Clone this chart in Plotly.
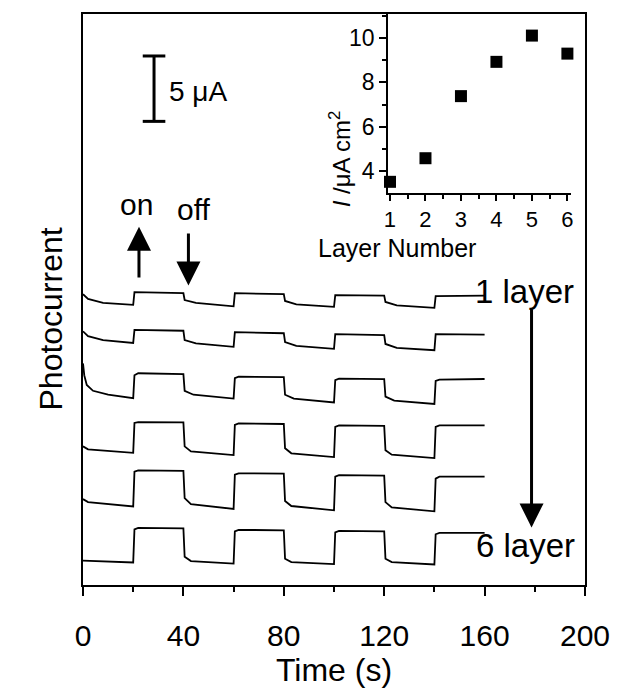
import plotly.graph_objects as go

FONT = "Liberation Sans, Arial, sans-serif"

# ---- main traces: time (s) and photocurrent (µA, offset per layer) ----
t_a = [0, 2, 8, 20, 20.5, 40, 40.5, 45, 60, 60.5, 80, 80.5, 85, 100, 100.5, 120, 120.5, 125, 140, 140.5, 160]
layer1 = [22.24, 21.87, 21.57, 21.42, 22.39, 22.31, 21.79, 21.57, 21.31, 22.31, 22.24, 21.72, 21.46, 21.27,
          22.16, 22.13, 21.64, 21.38, 21.19, 22.09, 22.13]
layer2 = [19.40, 19.03, 18.73, 18.51, 19.51, 19.44, 18.73, 18.47, 18.21, 19.33, 19.25, 18.58, 18.28, 18.06,
          19.18, 19.10, 18.43, 18.13, 17.95, 19.18, 19.14]
t_b = [0, 0.5, 1.5, 4, 10, 20, 20.5, 22, 40, 40.5, 44, 60, 60.5, 62, 80, 80.5, 84, 100, 100.5, 102, 120,
       120.5, 124, 140, 140.5, 142, 160]
layer3 = [16.94, 16.04, 15.30, 14.85, 14.55, 14.29, 16.04, 16.19, 16.12, 14.85, 14.55, 14.25, 15.82, 15.93,
          15.90, 14.55, 14.25, 13.96, 15.67, 15.78, 15.75, 14.40, 14.10, 13.84, 15.60, 15.71, 15.75]
t_c = [0, 2, 20, 20.5, 22, 40, 40.5, 43, 60, 60.5, 62, 80, 80.5, 83, 100, 100.5, 102, 120, 120.5, 123, 140,
       140.5, 142, 160]
layer4 = [10.60, 10.37, 10.11, 12.39, 12.46, 12.43, 10.60, 10.22, 9.93, 12.24, 12.35, 12.31, 10.45, 10.07,
          9.78, 12.09, 12.20, 12.16, 10.30, 9.96, 9.70, 12.09, 12.20, 12.20]
layer5 = [6.57, 6.34, 6.01, 8.66, 8.77, 8.73, 6.64, 6.19, 5.82, 8.43, 8.54, 8.51, 6.42, 6.04, 5.71, 8.28,
          8.40, 8.36, 6.34, 5.93, 5.63, 8.13, 8.28, 8.28]
t_d = [0, 20, 20.5, 22, 40, 40.5, 43, 60, 60.5, 62, 80, 80.5, 83, 100, 100.5, 102, 120, 120.5, 123, 140,
       140.5, 142, 160]
layer6 = [1.87, 1.72, 4.25, 4.37, 4.33, 2.16, 1.83, 1.64, 4.10, 4.22, 4.18, 2.01, 1.75, 1.60, 4.03, 4.14,
          4.10, 2.01, 1.75, 1.57, 3.88, 3.99, 3.99]

traces = [(t_a, layer1), (t_a, layer2), (t_b, layer3), (t_c, layer4), (t_c, layer5), (t_d, layer6)]

# ---- inset ----
layer_number = [1, 2, 3, 4, 5, 6]
inset_current = [3.53, 4.59, 7.38, 8.92, 10.10, 9.29]

x_ticks = [0, 40, 80, 120, 160, 200]

fig = go.Figure()
for tx, iy in traces:
    fig.add_trace(go.Scatter(x=tx, y=iy, mode="lines", line=dict(color="black", width=1.8),
                             showlegend=False, hoverinfo="skip"))

fig.add_trace(go.Scatter(x=layer_number, y=inset_current, mode="markers", xaxis="x2", yaxis="y2",
                         marker=dict(symbol="square", size=12, color="black"),
                         cliponaxis=False, showlegend=False))

# scale bar (5 µA)
sb_x, sb_y0, sb_y1, sb_w = 28.3, 35.45, 40.45, 4.5
for shp in [dict(x0=sb_x, x1=sb_x, y0=sb_y0, y1=sb_y1),
            dict(x0=sb_x - sb_w, x1=sb_x + sb_w, y0=sb_y0, y1=sb_y0),
            dict(x0=sb_x - sb_w, x1=sb_x + sb_w, y0=sb_y1, y1=sb_y1)]:
    fig.add_shape(type="line", xref="x", yref="y", line=dict(color="black", width=3), **shp)

ann = []
ann.append(dict(x=33.5, y=37.7, xref="x", yref="y", text="5 \u03bcA", showarrow=False,
                xanchor="left", yanchor="middle", font=dict(size=28)))
ann.append(dict(x=21.3, y=29.1, xref="x", yref="y", text="on", showarrow=False,
                font=dict(size=30)))
ann.append(dict(x=44.1, y=28.7, xref="x", yref="y", text="off", showarrow=False,
                font=dict(size=30)))
# arrows
arrow_style = dict(xref="x", yref="y", axref="x", ayref="y", text="", showarrow=True,
                   arrowhead=2, arrowsize=1.6, arrowwidth=3, arrowcolor="black")
ann.append(dict(x=22.3, y=27.4, ax=22.3, ay=23.4, **arrow_style))
ann.append(dict(x=42.0, y=22.9, ax=42.0, ay=27.0, **arrow_style))
ann.append(dict(x=178.7, y=4.4, ax=178.7, ay=21.2, **arrow_style))
ann.append(dict(x=155.3, y=22.46, xref="x", yref="y", text="1 layer", showarrow=False,
                xanchor="left", yanchor="middle", font=dict(size=33)))
ann.append(dict(x=155.6, y=2.99, xref="x", yref="y", text="6 layer", showarrow=False,
                xanchor="left", yanchor="middle", font=dict(size=33)))
ann.append(dict(x=-0.104, y=0.3026, xref="paper", yref="paper", text="Photocurrent", showarrow=False,
                textangle=-90, font=dict(size=32)))
ann.append(dict(x=0.512, y=0.834, xref="paper", yref="paper",
                text="<i>I</i> /\u03bcA cm<sup>2</sup>", showarrow=False, textangle=-90,
                font=dict(size=24)))
ann.append(dict(x=0.787, y=0.590, xref="paper", yref="paper", text="Layer Number", showarrow=False,
                font=dict(size=25)))

fig.update_layout(
    width=622, height=690,
    margin=dict(l=83, r=31, t=12, b=93),
    paper_bgcolor="white", plot_bgcolor="white",
    font=dict(family=FONT, color="black"),
    annotations=ann,
    xaxis=dict(range=[0, 200], tickvals=x_ticks, ticktext=[str(v) for v in x_ticks],
               showline=True, linecolor="black", linewidth=2, mirror=True,
               ticks="outside", ticklen=9, tickwidth=2, tickcolor="black",
               minor=dict(dtick=20, ticks="outside", ticklen=5, tickwidth=2, tickcolor="black"),
               showgrid=False, zeroline=False, tickfont=dict(size=30),
               ticklabelstandoff=14,
               title=dict(text="Time (s)", font=dict(size=32), standoff=4)),
    yaxis=dict(range=[0, 43.66], showline=True, linecolor="black", linewidth=2, mirror=True,
               showticklabels=False, ticks="", showgrid=False, zeroline=False),
    xaxis2=dict(domain=[0.608, 0.972], anchor="y2", range=[0.95, 6.1], dtick=1,
                showline=True, linecolor="black", linewidth=2, mirror=False,
                ticks="outside", ticklen=6, tickwidth=2, tickcolor="black",
                minor=dict(dtick=0.5, ticks="outside", ticklen=4, tickwidth=2, tickcolor="black"),
                showgrid=False, zeroline=False, tickfont=dict(size=22)),
    yaxis2=dict(domain=[0.687, 1.0], anchor="x2", range=[3.04, 11.07], dtick=2,
                showline=True, linecolor="black", linewidth=2, mirror=False,
                ticks="outside", ticklen=7, tickwidth=2, tickcolor="black",
                minor=dict(dtick=1, ticks="outside", ticklen=4, tickwidth=2, tickcolor="black"),
                showgrid=False, zeroline=False, tickfont=dict(size=23)),
)

fig.write_html("out.html")
